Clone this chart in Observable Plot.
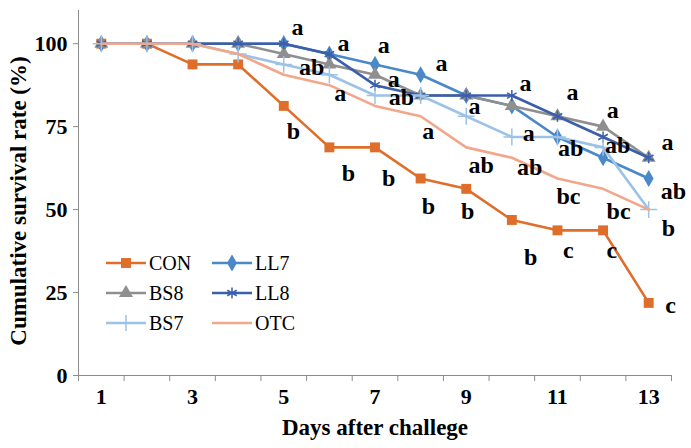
<!DOCTYPE html>
<html><head><meta charset="utf-8">
<script src="https://cdn.jsdelivr.net/npm/d3@7"></script>
<script src="https://cdn.jsdelivr.net/npm/@observablehq/plot@0.6"></script>
<style>
body{margin:0;background:#fff;}
#wrap{position:relative;width:691px;height:448px;font-family:'Liberation Serif',serif;}
#wrap svg text{font-family:'Liberation Serif',serif;}
#legend{position:absolute;left:106px;top:249px;display:grid;grid-template-columns:106px 100px;row-gap:2px;font-size:20px;color:#000;font-family:'Liberation Serif',serif;}
#legend .item{display:flex;align-items:center;height:28px;}
#legend svg{margin-right:3px;}
</style></head><body><div id="wrap"></div>
<script>
const days = [1,2,3,4,5,6,7,8,9,10,11,12,13];
const seriesNames = ["CON","LL7","BS8","LL8","BS7","OTC"];
const CON = [100,100,93.75,93.75,81.25,68.75,68.75,59.375,56.25,46.875,43.75,43.75,21.875];
const LL7 = [100,100,100,100,100,96.875,93.75,90.625,84.375,81.25,71.875,65.625,59.375];
const BS8 = [100,100,100,100,96.875,93.75,90.625,84.375,84.375,81.25,78.125,75,65.625];
const LL8 = [100,100,100,100,100,96.875,87.5,84.375,84.375,84.375,78.125,71.875,65.625];
const BS7 = [100,100,100,96.875,93.75,90.625,84.375,84.375,78.125,71.875,71.875,68.75,50];
const OTC = [100,100,100,96.875,90.625,87.5,81.25,78.125,68.75,65.625,59.375,56.25,50];
const seriesValues = [CON,LL7,BS8,LL8,BS7,OTC];
const seriesColors = ["#DF6E2A","#4A88C7","#8F8F8F","#3B5FAA","#9CC2E8","#F2A68A"];
const seriesSymbols = ["square","diamond","triangle","asterisk","plus",null];
const xTickLabels = [1,3,5,7,9,11,13];
const yTicks = [0,25,50,75,100];
// significance letters (text, day position, value position)
const letterText = ["a","a","a","a","a","a","a","a","ab","a","ab","a","a","a","a","ab","ab","ab","ab","bc","bc","ab","b","b","b","b","b","b","b","c","c","c"];
const letterDay = [5.30,6.31,7.19,8.46,10.30,11.33,12.21,13.41,5.61,7.41,7.58,6.24,9.18,8.17,10.37,11.29,12.32,9.33,10.39,11.24,12.34,13.54,13.43,5.21,6.42,7.30,8.17,9.03,10.41,11.24,12.19,13.48];
const letterValue = [104.9,100.1,99.5,94.0,88.0,85.3,79.9,70.2,92.8,89.3,83.8,84.9,81.1,73.5,72.9,68.4,69.3,63.3,62.7,53.9,49.4,55.5,44.3,73.5,60.9,59.4,50.9,49.4,35.6,37.7,37.7,21.1];

const FONT = "Liberation Serif";
const rows = [];
seriesNames.forEach((name,i)=>seriesValues[i].forEach((v,j)=>rows.push({series:name, day:days[j], value:v})));
const letters = letterText.map((t,i)=>({text:t, day:letterDay[i], value:letterValue[i]}));
const boundaries = d3.range(0.5, 13.6, 1);
const axisColor = "#8c8c8c";

const seriesMarks = [];
seriesNames.forEach((name,i)=>{
  const data = rows.filter(r=>r.series===name);
  seriesMarks.push(Plot.line(data,{x:"day",y:"value",stroke:seriesColors[i],strokeWidth:2.6}));
  const sym = seriesSymbols[i];
  if (sym) {
    const stroked = sym==="asterisk"||sym==="plus";
    seriesMarks.push(Plot.dot(data,{x:"day",y:"value",symbol:()=>sym,r: sym==="square"?5.6:(sym==="plus"?5.5:5.2),
      fill: stroked?"none":seriesColors[i], stroke: stroked?seriesColors[i]:"none", strokeWidth: stroked?1.5:0}));
  }
});

const chart = Plot.plot({
  width:691, height:448,
  marginLeft:78, marginRight:20, marginTop:10, marginBottom:73,
  x:{domain:[0.5,13.5], axis:null},
  y:{domain:[0,110], axis:null},
  symbol:{type:"identity"},
  style:{fontFamily:FONT, background:"white", color:"#000"},
  marks:[
    Plot.ruleY([0],{x1:0.5,x2:13.5,stroke:axisColor,strokeWidth:1}),
    Plot.ruleX([0.5],{y1:0,y2:110,stroke:axisColor,strokeWidth:1}),
    Plot.axisX(boundaries,{tickSize:6,tickFormat:()=>"",stroke:axisColor,label:null}),
    Plot.axisX(xTickLabels,{tickSize:0,tickPadding:13,fontSize:22,fontWeight:"bold",fontFamily:FONT,fill:"#000",label:null}),
    Plot.axisY(yTicks,{tickSize:5,tickPadding:6,fontSize:22,fontWeight:"bold",fontFamily:FONT,stroke:axisColor,fill:"#000",label:null}),
    Plot.text(["Days after challege"],{frameAnchor:"bottom",dy:59,fontSize:23,fontWeight:"bold",fontFamily:FONT,fill:"#000"}),
    Plot.text(["Cumulative survival rate (%)"],{frameAnchor:"left",dx:-60,dy:8,rotate:-90,textAnchor:"middle",fontSize:23,fontWeight:"bold",fontFamily:FONT,fill:"#000"}),
    ...seriesMarks,
    Plot.text(letters,{x:"day",y:"value",text:"text",fontSize:24,fontWeight:"bold",fontFamily:FONT,fill:"#000"})
  ]
});
const wrap = document.getElementById("wrap");
wrap.appendChild(chart);

// legend
const legend = document.createElement("div");
legend.id = "legend";
seriesNames.forEach((name,i)=>{
  const item = document.createElement("div");
  item.className = "item";
  const ns = "http://www.w3.org/2000/svg";
  const svg = document.createElementNS(ns,"svg");
  svg.setAttribute("width","40"); svg.setAttribute("height","16");
  const line = document.createElementNS(ns,"line");
  line.setAttribute("x1","0"); line.setAttribute("x2","40"); line.setAttribute("y1","8"); line.setAttribute("y2","8");
  line.setAttribute("stroke",seriesColors[i]); line.setAttribute("stroke-width","2.6");
  svg.appendChild(line);
  const sym = seriesSymbols[i];
  if (sym) {
    const symMap = {square:d3.symbolSquare, diamond:d3.symbolDiamond, triangle:d3.symbolTriangle, asterisk:d3.symbolAsterisk, plus:d3.symbolPlus};
    const r = sym==="square"?5.6:(sym==="plus"?5.5:5.2);
    const p = document.createElementNS(ns,"path");
    p.setAttribute("d", d3.symbol(symMap[sym], Math.PI*r*r)());
    p.setAttribute("transform","translate(20,8)");
    const stroked = sym==="asterisk"||sym==="plus";
    p.setAttribute("fill", stroked?"none":seriesColors[i]);
    p.setAttribute("stroke", stroked?seriesColors[i]:"none");
    p.setAttribute("stroke-width","1.5");
    svg.appendChild(p);
  }
  item.appendChild(svg);
  const span = document.createElement("span");
  span.textContent = name;
  item.appendChild(span);
  legend.appendChild(item);
});
wrap.appendChild(legend);
</script>
</body></html>
